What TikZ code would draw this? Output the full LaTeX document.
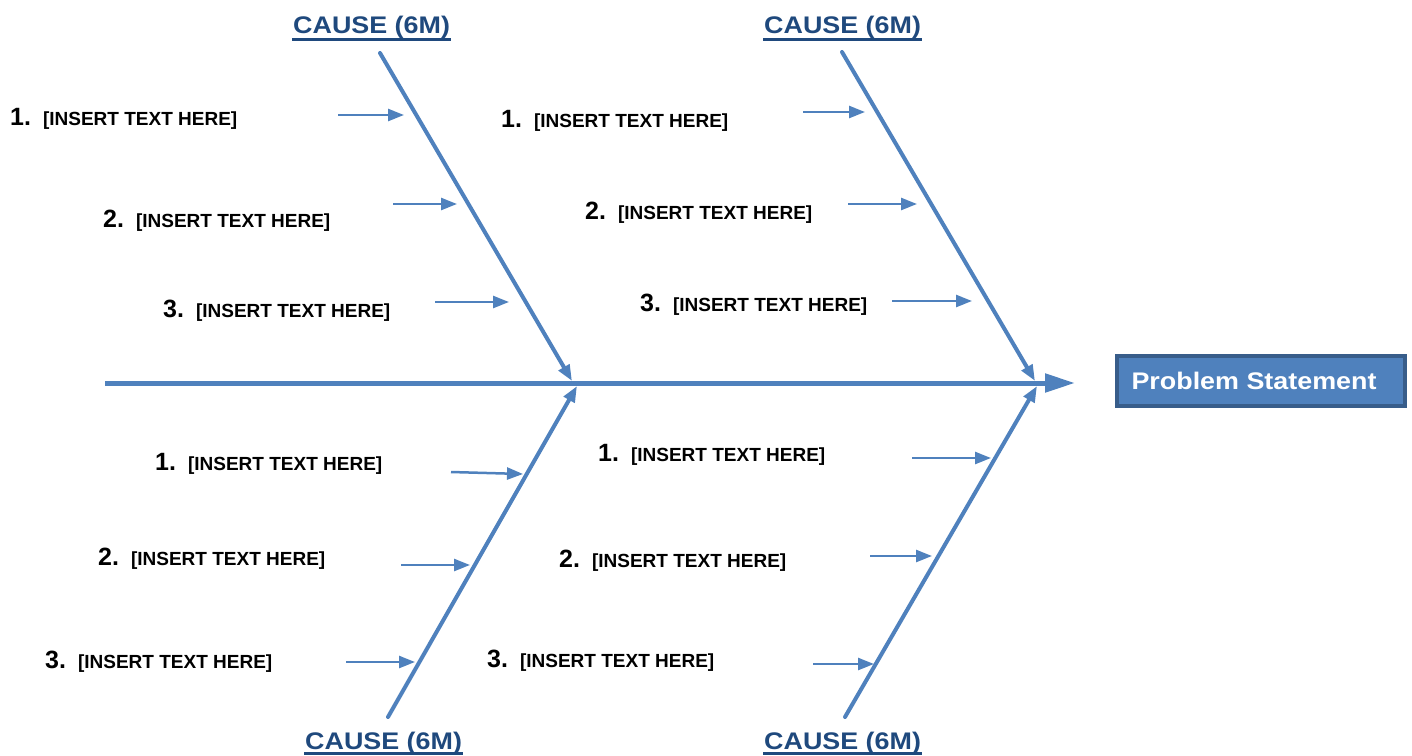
\documentclass[tikz,border=0pt]{standalone}
\usepackage{fontspec}
\usepackage{graphicx}
\setmainfont{Liberation Sans}
\usetikzlibrary{arrows.meta,calc}
\definecolor{boneblue}{HTML}{4F81BD}
\definecolor{causenavy}{HTML}{1F497D}
\definecolor{boxedge}{HTML}{385D8A}

\tikzset{
  spine/.style={boneblue, line width=5pt, -{Triangle[length=30pt,width=18pt]}},
  bone/.style={boneblue, line width=4pt, line cap=round, -{Triangle[length=16pt,width=12pt]}},
  twig/.style={boneblue, line width=2.5pt, -{Triangle[length=16pt,width=12pt]}},
  cause/.style={anchor=base west, inner sep=0pt, text=causenavy, font=\fontsize{24}{24}\selectfont\bfseries},
  causeline/.style={causenavy, line width=3.5pt},
  item/.style={anchor=base west, inner sep=0pt, font=\fontsize{25}{25}\selectfont\bfseries},
  problem/.style={fill=boneblue, draw=boxedge, line width=4pt, text=white, minimum width=288pt, minimum height=50pt, inner sep=0pt, font=\fontsize{24}{24}\selectfont\bfseries},
}
\newcommand{\inserttext}{\hspace{12pt}{\fontsize{19}{19}\selectfont [INSERT TEXT HERE]}}
\newcommand{\causetext}{\scalebox{1.12}[1]{CAUSE (6M)}}

\begin{document}
\begin{tikzpicture}[x=1pt, y=-1pt]
    \useasboundingbox (0,0) rectangle (1412,755);

    % Head and spine
    \coordinate (tail) at (105,383);
    \coordinate (head) at (1075,383);
    \draw[spine] (tail) -- (head);
    \node[problem] (ps) at (1261,381) {\scalebox{1.12}[1]{Problem Statement}\kern14pt};

    % Cause titles
    \node[cause] (ctl) at (293,33) {\causetext};
    \node[cause] (ctr) at (764,33) {\causetext};
    \node[cause] (cbl) at (305,749) {\causetext};
    \node[cause] (cbr) at (764,749) {\causetext};
    \draw[causeline] ([yshift=-6.5pt,xshift=-1pt]ctl.base west) -- ([yshift=-6.5pt,xshift=1pt]ctl.base east);
    \draw[causeline] ([yshift=-6.5pt,xshift=-1pt]ctr.base west) -- ([yshift=-6.5pt,xshift=1pt]ctr.base east);
    \draw[causeline] ([yshift=-4.5pt,xshift=-1pt]cbl.base west) -- ([yshift=-4.5pt,xshift=1pt]cbl.base east);
    \draw[causeline] ([yshift=-4.5pt,xshift=-1pt]cbr.base west) -- ([yshift=-4.5pt,xshift=1pt]cbr.base east);

    % Bones
    \coordinate (btl) at (380,53);   \coordinate (jtl) at (572,381);
    \coordinate (btr) at (842,52);   \coordinate (jtr) at (1035,381);
    \coordinate (bbl) at (388,717);  \coordinate (jbl) at (577,386);
    \coordinate (bbr) at (845,717);  \coordinate (jbr) at (1037,386);
    \draw[bone] (btl) -- (jtl);
    \draw[bone] (btr) -- (jtr);
    \draw[bone] (bbl) -- (jbl);
    \draw[bone] (bbr) -- (jbr);

    % Items, upper left
    \node[item] (tl1) at (10,125) {1.\inserttext};
    \node[item] (tl2) at (103,227) {2.\inserttext};
    \node[item] (tl3) at (163,317) {3.\inserttext};
    % Items, upper right
    \node[item] (tr1) at (501,127) {1.\inserttext};
    \node[item] (tr2) at (585,219) {2.\inserttext};
    \node[item] (tr3) at (640,311) {3.\inserttext};
    % Items, lower left
    \node[item] (bl1) at (155,470) {1.\inserttext};
    \node[item] (bl2) at (98,565) {2.\inserttext};
    \node[item] (bl3) at (45,668) {3.\inserttext};
    % Items, lower right
    \node[item] (br1) at (598,461) {1.\inserttext};
    \node[item] (br2) at (559,567) {2.\inserttext};
    \node[item] (br3) at (487,667) {3.\inserttext};

    % Small arrows onto the bones
    \foreach \n/\xa/\ya/\xb/\yb in {tla/338/115/404/115, tlb/393/204/457/204, tlc/435/302/509/302,
        tra/803/112/865/112, trb/848/204/917/204, trc/892/301/972/301,
        bla/451/472/523/474, blb/401/565/470/565, blc/346/662/415/662,
        bra/912/458/991/458, brb/870/556/932/556, brc/813/664/874/664}{
      \coordinate (\n s) at (\xa,\ya);
      \coordinate (\n e) at (\xb,\yb);
      \draw[twig] (\n s) -- (\n e);
    }
\end{tikzpicture}
\end{document}
